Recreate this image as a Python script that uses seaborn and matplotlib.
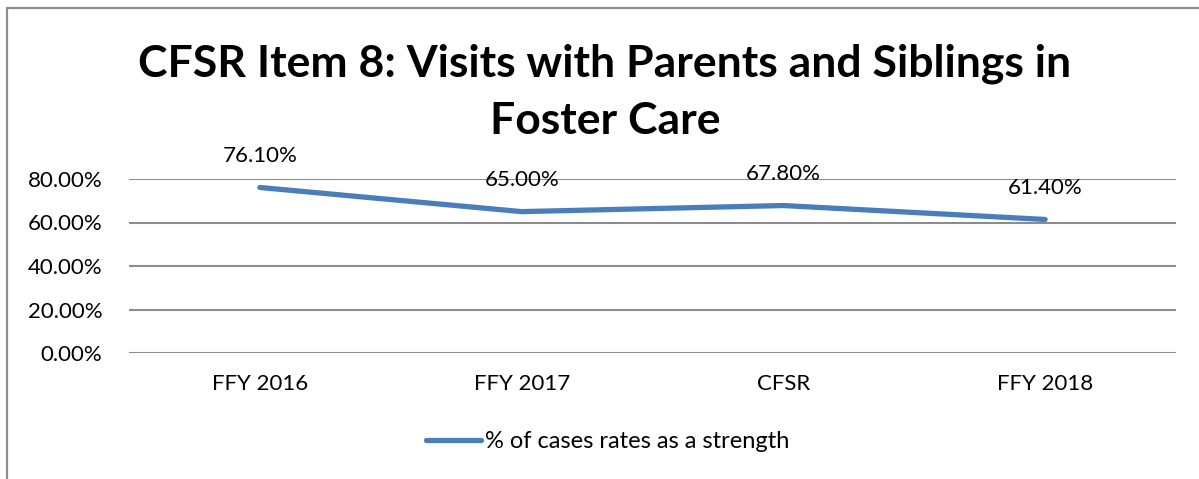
import matplotlib
matplotlib.use('Agg')
import matplotlib.pyplot as plt
from matplotlib.lines import Line2D
from matplotlib.ticker import PercentFormatter
import seaborn as sns

categories = ['FFY 2016', 'FFY 2017', 'CFSR', 'FFY 2018']
strength_rate = [0.761, 0.650, 0.678, 0.614]
series_name = '% of cases rates as a strength'
title = 'CFSR Item 8: Visits with Parents and Siblings in\nFoster Care'

W, H = 1199, 479
LINE_BLUE = '#4A7EBB'
GRID_GRAY = '#8C8C8C'

sns.set_theme(style='white')
plt.rcParams['font.family'] = ['Lato', 'DejaVu Sans']
plt.rcParams['text.color'] = 'black'

fig = plt.figure(figsize=(W / 100, H / 100), dpi=100)
ax = fig.add_axes([129 / W, 126 / H, (1176 - 129) / W, 174 / H])

sns.lineplot(x=categories, y=strength_rate, sort=False, ax=ax,
             color=LINE_BLUE, linewidth=3.8, solid_capstyle='round',
             legend=False)

# data labels above each point
for i, v in enumerate(strength_rate):
    ax.annotate(f'{v * 100:.2f}%', (i, v), xytext=(0, 23),
                textcoords='offset points', ha='center', va='center',
                fontsize=16, color='black', annotation_clip=False)

ax.set_xlim(-0.5, len(categories) - 0.5)
ax.set_ylim(0, 0.8)
ax.set_yticks([0, 0.2, 0.4, 0.6, 0.8])
ax.yaxis.set_major_formatter(PercentFormatter(1.0, decimals=2))
ax.grid(axis='y', color=GRID_GRAY, linewidth=1.5)
ax.grid(axis='x', visible=False)
for s in ax.spines.values():
    s.set_visible(False)
ax.tick_params(axis='both', length=0, labelsize=16, colors='black')
ax.tick_params(axis='y', pad=19)
ax.tick_params(axis='x', pad=15)
ax.set_xlabel('')
ax.set_ylabel('')

fig.text(605 / W, 1 - 92 / H, title, ha='center', va='center', color='black',
         fontsize=32, fontweight='bold', linespacing=1.5)

handle = Line2D([], [], color=LINE_BLUE, linewidth=3.8, solid_capstyle='round')
fig.legend([handle], [series_name], loc='center',
           bbox_to_anchor=(608 / W, 1 - 442 / H), frameon=False,
           fontsize=17, handlelength=2.3, handletextpad=0.2)

# chart frame (left and top edges visible)
fig.add_artist(Line2D([7 / W, 7 / W], [0, 1 - 7.5 / H], color=GRID_GRAY,
                      linewidth=1.6, transform=fig.transFigure))
fig.add_artist(Line2D([7 / W, 1], [1 - 7.5 / H, 1 - 7.5 / H], color=GRID_GRAY,
                      linewidth=1.6, transform=fig.transFigure))

fig.savefig('out.png', dpi=100)
